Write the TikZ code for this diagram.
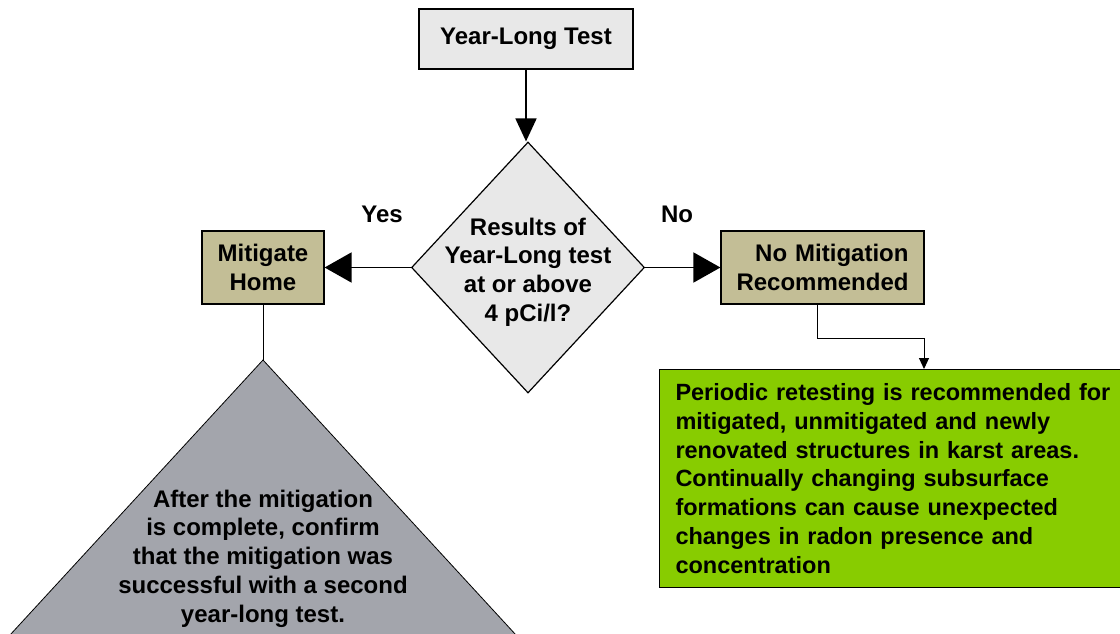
\documentclass[tikz,border=0pt]{standalone}
\usepackage{fontspec}
\setmainfont{Liberation Sans}
\usetikzlibrary{shapes.geometric,arrows.meta}
\definecolor{lgray}{HTML}{E8E8E8}
\definecolor{tan}{HTML}{C3BE96}
\definecolor{tgray}{HTML}{A3A5AC}
\definecolor{lgreen}{HTML}{88CC00}

\begin{document}
\begin{tikzpicture}[x=1pt, y=-1pt,
    every node/.style={font=\fontsize{24}{28.8}\selectfont\bfseries},
    box/.style={draw, line width=1.2pt, align=center, inner sep=0pt},
    flow/.style={draw, line width=1.8pt, -{Triangle[length=27pt,width=30pt]}}]
  \clip (0,0) rectangle (1120,634);
  \node[box, fill=lgray, minimum width=214pt, minimum height=60pt] (test) at (526,39) {Year-Long Test};
  \node[box, diamond, fill=lgray, minimum width=233pt, minimum height=251pt,
        label={[align=center, yshift=-4.5pt]center:Results of\\Year-Long test\\at or above\\4 pCi/l?}] (dec) at (528,267.5) {};
  \node[box, fill=tan, minimum width=122pt, minimum height=73pt] (mit) at (263,267.5) {Mitigate\\Home};
  \node[box, fill=tan, align=right, text width=172pt, minimum width=203pt, minimum height=73pt] (nomit) at (822.5,267.5) {No Mitigation\\Recommended};
  \node[anchor=base] (yes) at (382,222.6) {Yes};
  \node[anchor=base] (no) at (677,222.6) {No};
  \coordinate (tri) at (263,360);
  \coordinate (bend) at (924,338);

  \fill[tgray, draw=black, line width=0.8pt] (tri) -- (-13,660) -- (539,660) -- cycle;
  \node[align=center] (after) at (263,558.5) {After the mitigation\\is complete, confirm\\that the mitigation was\\successful with a second\\year-long test.};
  \node[draw, line width=1pt, fill=lgreen, anchor=north west, align=left, text width=460pt, inner xsep=16pt, inner ysep=14pt,
        font=\fontsize{23.5}{28.8}\selectfont\bfseries] (retest) at (659,369)
    {Periodic retesting is recommended for\\mitigated, unmitigated and newly\\renovated structures in karst areas.\\Continually changing subsurface\\formations can cause unexpected\\changes in radon presence and\\concentration};

  \draw [flow, -{Triangle[length=23pt,width=21pt]}] (test) -- (test |- dec.north);
  \draw [flow] (dec) -- (mit);
  \draw [flow] (dec) -- (nomit);
  \draw [line width=1pt] (mit) -- (tri);
  \draw [line width=1pt, -{Triangle[length=11pt,width=10pt]}] ([xshift=-5.5pt]nomit.south) |- (bend) -- (bend |- retest.north);
\end{tikzpicture}
\end{document}
